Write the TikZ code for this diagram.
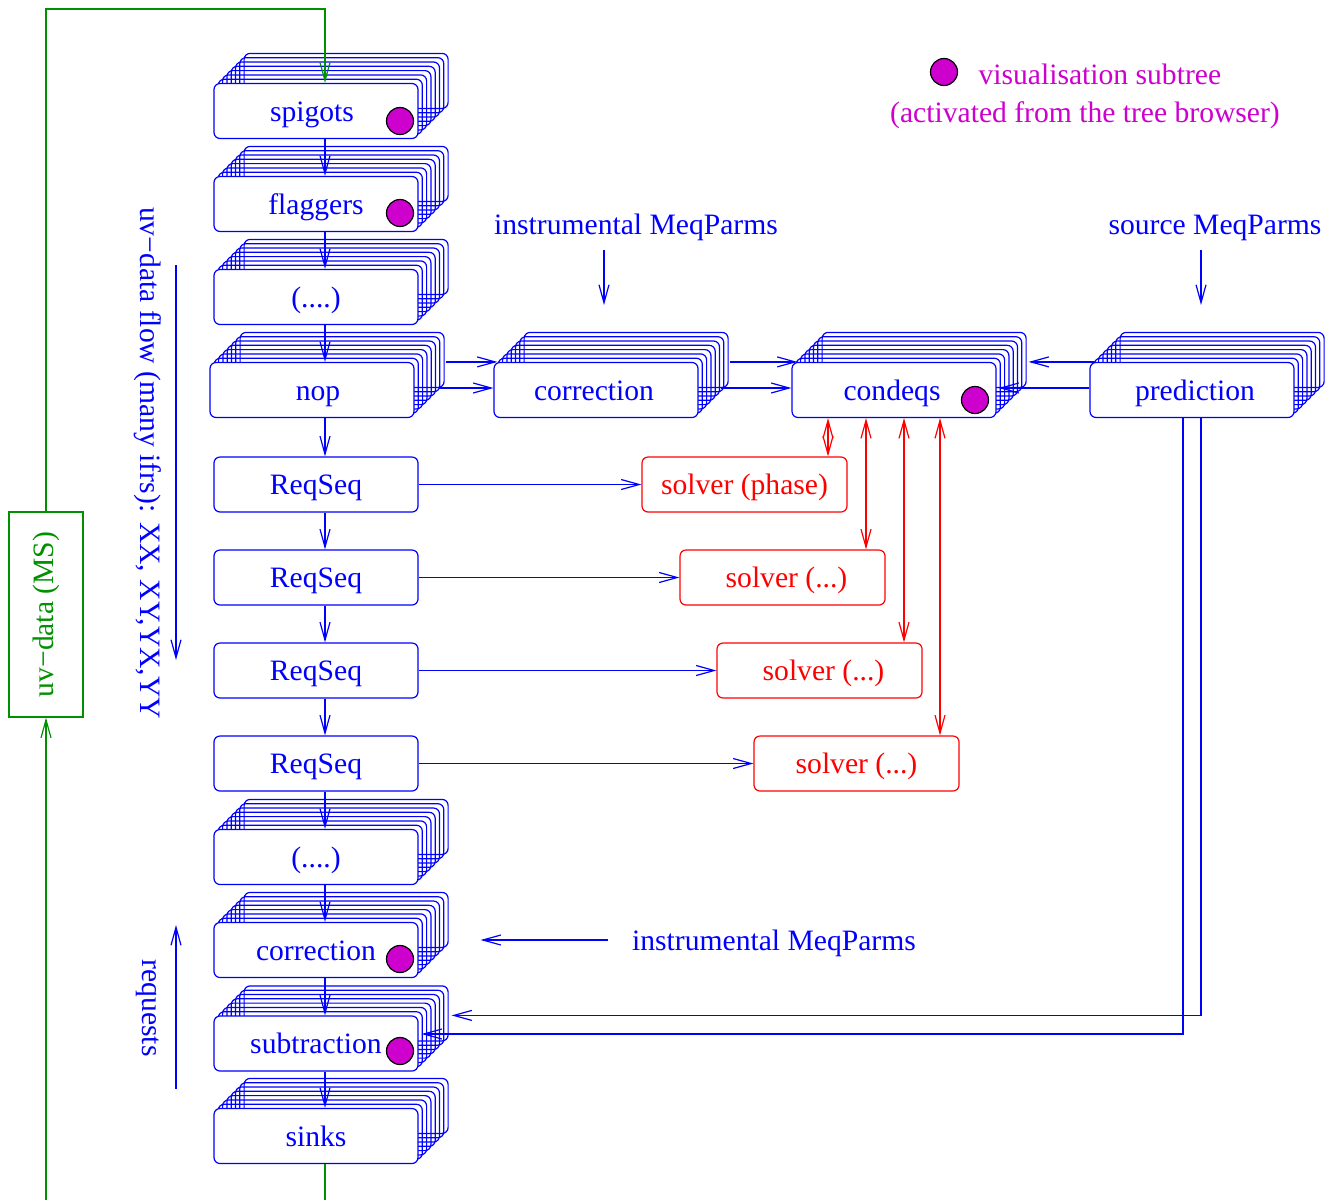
\documentclass[tikz,border=0pt]{standalone}
\usepackage{fontspec}
\setmainfont{Liberation Serif}
\usetikzlibrary{arrows.meta,calc}
\definecolor{fgblue}{RGB}{0,0,255}
\definecolor{fgred}{RGB}{255,0,0}
\definecolor{fggreen}{RGB}{0,144,0}
\definecolor{fgmag}{RGB}{205,0,205}

% a box with seven outlined copies stacked behind it, up and to the right
\newcommand\layered[4]{% #1 name, #2 cx, #3 cy, #4 label
  \foreach \k in {1,...,7}{
    \draw[stackcopy] ({#2-102+4.3*\k},{#3-27.5-4.3*\k}) rectangle ({#2+102+4.3*\k},{#3+27.5-4.3*\k});
  }
  \node[bluebox] (#1) at (#2,#3) {#4};
}

\begin{document}
\begin{tikzpicture}[x=0.5pt,y=-0.5pt,line width=0.6pt,
  font=\fontsize{14.8}{17.8}\selectfont,
  tip/.tip={Straight Barb[length=9pt,width=5pt]},
  stackcopy/.style={draw=fgblue,rounded corners=3pt},
  bluebox/.style={draw=fgblue,fill=white,rounded corners=3pt,minimum width=102pt,
    minimum height=27.5pt,inner sep=0pt,text=fgblue,text height=10pt,text depth=0pt},
  solverbox/.style={draw=fgred,fill=white,rounded corners=3pt,minimum width=102.5pt,
    minimum height=27.5pt,inner sep=0pt,text=fgred,text height=10pt,text depth=0pt},
  arr/.style={draw=fgblue,-tip},
  redarr/.style={draw=fgred,tip-tip},
  gline/.style={draw=fggreen},
  garr/.style={draw=fggreen,-tip},
  bluetxt/.style={text=fgblue,inner sep=0pt},
  flattxt/.style={text height=10pt,text depth=0pt},
  magtxt/.style={text=fgmag,inner sep=0pt},
  vdot/.style={circle,draw=black,fill=fgmag,minimum size=13.5pt,inner sep=0pt,line width=0.6pt}]
\useasboundingbox (0,0) rectangle (1336,1200);

% reference columns
\coordinate (colx) at (325,0);
\coordinate (r1) at (828,0);
\coordinate (r2) at (866,0);
\coordinate (r3) at (904,0);
\coordinate (r4) at (940,0);
\coordinate (p1) at (1201,0);
\coordinate (p2) at (1183,0);
\coordinate (gtop) at (325,9);
\coordinate (gbot) at (46,1200);

% main column of the tree
\layered{spig}{316}{111}{spigots\hspace*{4pt}}
\layered{flag}{316}{204}{flaggers}
\layered{dots1}{316}{297}{(....)}
\layered{nop}{312}{390}{\hspace*{6pt}nop}
\node[bluebox] (rq1) at (316,484.5) {ReqSeq};
\node[bluebox] (rq2) at (316,577.5) {ReqSeq};
\node[bluebox] (rq3) at (316,670.5) {ReqSeq};
\node[bluebox] (rq4) at (316,763.5) {ReqSeq};
\layered{dots2}{316}{857}{(....)}
\layered{corr2}{316}{950}{correction}
\layered{subt}{316}{1043.5}{subtraction}
\layered{sinks}{316}{1136}{sinks}

% upper row
\layered{corr}{596}{390}{correction\hspace*{2pt}}
\layered{cond}{894}{390}{condeqs\hspace*{2pt}}
\layered{pred}{1192}{390}{\hspace*{3pt}prediction}

% solvers
\node[solverbox] (sv1) at (744.5,484.5) {solver (phase)};
\node[solverbox] (sv2) at (782.5,577.5) {\hspace*{4pt}solver (...)};
\node[solverbox] (sv3) at (819.5,670.5) {\hspace*{4pt}solver (...)};
\node[solverbox] (sv4) at (856.5,763.5) {solver (...)};

% visualisation markers
\node[vdot] (m1) at (400,121) {};
\node[vdot] (m2) at (400,213) {};
\node[vdot] (m3) at (975,400) {};
\node[vdot] (m4) at (400,959) {};
\node[vdot] (m5) at (400,1051) {};

% legend
\node[vdot] (mleg) at (944,72) {};
\node[magtxt,anchor=west] (leg1) at (978,74) {visualisation subtree};
\node[magtxt,flattxt] (leg2) at (1085,112) {(activated from the tree browser)};

% data flow down the column
\draw[arr] (spig.south -| colx) -- (flag.north -| colx);
\draw[arr] (flag.south -| colx) -- (dots1.north -| colx);
\draw[arr] (dots1.south -| colx) -- (nop.north -| colx);
\draw[arr] (nop.south -| colx) -- (rq1.north -| colx);
\draw[arr] (rq1.south -| colx) -- (rq2.north -| colx);
\draw[arr] (rq2.south -| colx) -- (rq3.north -| colx);
\draw[arr] (rq3.south -| colx) -- (rq4.north -| colx);
\draw[arr] (rq4.south -| colx) -- (dots2.north -| colx);
\draw[arr] (dots2.south -| colx) -- (corr2.north -| colx);
\draw[arr] (corr2.south -| colx) -- (subt.north -| colx);
\draw[arr] (subt.south -| colx) -- (sinks.north -| colx);

% upper row connections
\draw[arr] ($(nop.north east)+(31,0)$) -- ($(corr.north west)+(4,0)$);
\draw[arr] ($(nop.east)+(24,-2)$) -- ($(corr.west)+(0,-2)$);
\draw[arr] ($(corr.north east)+(31,0)$) -- ($(cond.north west)+(6,0)$);
\draw[arr] ($(corr.east)+(22,-2)$) -- ($(cond.west)+(0,-2)$);
\draw[arr] ($(pred.north west)+(6,0)$) -- ($(cond.north east)+(32,0)$);
\draw[arr] ($(pred.west)+(0,-2)$) -- ($(cond.east)+(2,-2)$);

% prediction feeds the subtraction
\draw[arr] (pred.south -| p1) |- ($(subt.north east)+(33,0)$);
\draw[arr] (pred.south -| p2) |- ($(subt.east)+(3,-9.5)$);

% requests to the solvers
\draw[arr] (rq1.east) -- (sv1.west);
\draw[arr] (rq2.east) -- (sv2.west);
\draw[arr] (rq3.east) -- (sv3.west);
\draw[arr] (rq4.east) -- (sv4.west);

% solvers exchange with condeqs
\draw[redarr] (cond.south -| r1) -- (sv1.north -| r1);
\draw[redarr] (cond.south -| r2) -- (sv2.north -| r2);
\draw[redarr] (cond.south -| r3) -- (sv3.north -| r3);
\draw[redarr] (cond.south -| r4) -- (sv4.north -| r4);

% parameter inputs
\node[bluetxt,flattxt] (insttop) at (636,224) {instrumental MeqParms};
\node[bluetxt,flattxt] (srctop) at (1215,224) {source MeqParms};
\node[bluetxt,flattxt] (instlow) at (774,940) {instrumental MeqParms};
\coordinate (ia) at (604,250);
\coordinate (sa) at (1201,250);
\draw[arr] (ia) -- ++(0,55);
\draw[arr] (sa) -- ++(0,55);
\draw[arr] ($(instlow.west)+(-24,0)$) -- ++(-127,0);

% side annotations
\node[bluetxt,rotate=-90] (flowlbl) at (148,463) {uv−data flow (many ifrs): XX, XY,YX,YY};
\coordinate (fa) at (176,265);
\draw[arr] (fa) -- ++(0,395);
\node[bluetxt,rotate=-90] (reqlbl) at (148,1008) {requests};
\coordinate (qa) at (176,1089);
\draw[arr] (qa) -- ++(0,-164);

% measurement set loop
\node[draw=fggreen,text=fggreen,minimum width=37pt,minimum height=102.5pt,inner sep=0pt] (uvbox) at (46,614.5) {};
\node[text=fggreen,rotate=90,inner sep=0pt] (uvlbl) at (uvbox.center) {uv−data (MS)};
\draw[garr] (uvbox.north) |- (gtop) -- (spig.north -| gtop);
\draw[gline] (sinks.south -| colx) -- (colx |- gbot);
\draw[garr] (gbot) -- (uvbox.south);
\end{tikzpicture}
\end{document}
